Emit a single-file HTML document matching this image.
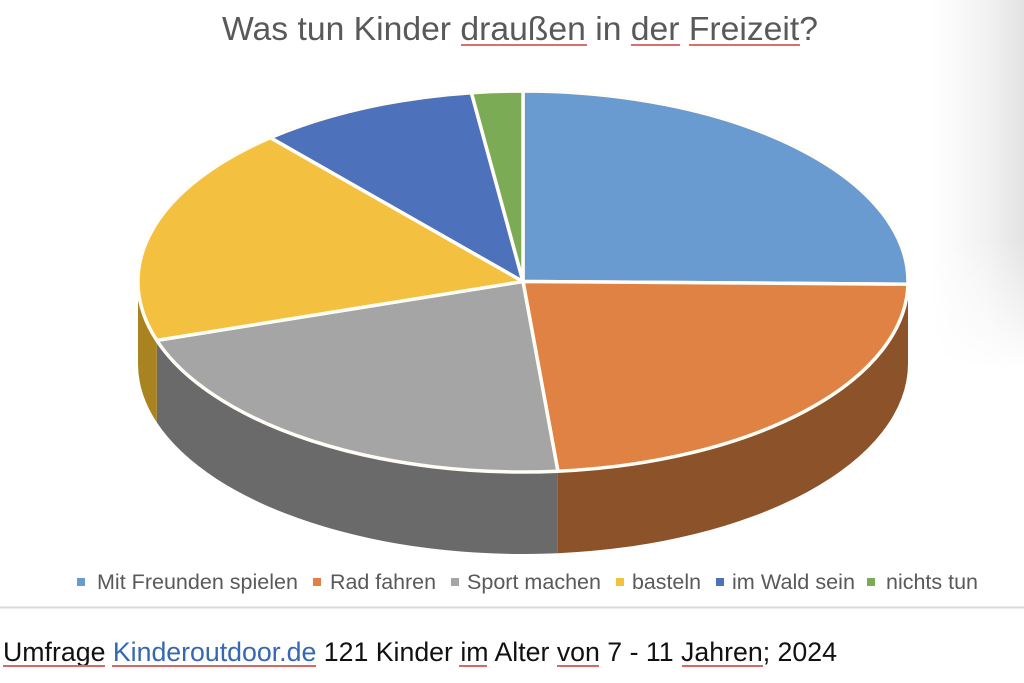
<!DOCTYPE html>
<html>
<head>
<meta charset="utf-8">
<style>
html,body{margin:0;padding:0;background:#fff;}
body{width:1024px;height:683px;overflow:hidden;}
svg{display:block;}
text{font-family:"Liberation Sans",Arial,sans-serif;}
</style>
</head>
<body>
<svg width="1024" height="683" viewBox="0 0 1024 683" xmlns="http://www.w3.org/2000/svg">
  <defs>
    <linearGradient id="hg" x1="0" y1="0" x2="1" y2="0">
      <stop offset="0" stop-color="#000" stop-opacity="0"/>
      <stop offset="0.6" stop-color="#000" stop-opacity="0.05"/>
      <stop offset="1" stop-color="#000" stop-opacity="0.11"/>
    </linearGradient>
    <linearGradient id="vg" x1="0" y1="0" x2="0" y2="1">
      <stop offset="0" stop-color="#fff"/>
      <stop offset="0.65" stop-color="#fff"/>
      <stop offset="1" stop-color="#000"/>
    </linearGradient>
    <mask id="vm">
      <rect x="930" y="0" width="94" height="370" fill="url(#vg)"/>
    </mask>
  </defs>

  <rect x="0" y="0" width="1024" height="683" fill="#fff"/>
  <!-- right page shadow -->
  <rect x="930" y="0" width="94" height="370" fill="url(#hg)" mask="url(#vm)"/>

  <!-- Title -->
  <text x="222" y="40" font-size="33.6" fill="#595959" textLength="596" lengthAdjust="spacingAndGlyphs">Was tun Kinder draußen in der Freizeit?</text>
  <g stroke="#d8706c" stroke-width="2">
    <line x1="461" y1="45" x2="587" y2="45"/>
    <line x1="631" y1="45" x2="680" y2="45"/>
    <line x1="689" y1="45" x2="800" y2="45"/>
  </g>

  <!-- Pie sides -->
  <path d="M908 281.5 A385 190.5 0 0 1 557.9 471.2 L557.9 553.2 A385 190.5 0 0 0 908 363.5 Z" fill="#8c522a"/>
  <path d="M557.9 471.2 A385 190.5 0 0 1 156.8 340.4 L156.8 422.4 A385 190.5 0 0 0 557.9 553.2 Z" fill="#6a6a6a"/>
  <path d="M156.8 340.4 A385 190.5 0 0 1 138 281.5 L138 363.5 A385 190.5 0 0 0 156.8 422.4 Z" fill="#a8831f"/>

  <!-- Pie top -->
  <g stroke="#fffdf6" stroke-width="3.5" stroke-linejoin="round">
    <path d="M523 281.5 L523 91 A385 190.5 0 0 1 907.96 284.2 Z" fill="#6a9bd0"/>
    <path d="M523 281.5 L907.96 284.2 A385 190.5 0 0 1 557.9 471.2 Z" fill="#e08243"/>
    <path d="M523 281.5 L557.9 471.2 A385 190.5 0 0 1 156.8 340.4 Z" fill="#a5a5a5"/>
    <path d="M523 281.5 L156.8 340.4 A385 190.5 0 0 1 270.4 137.7 Z" fill="#f3c13f"/>
    <path d="M523 281.5 L270.4 137.7 A385 190.5 0 0 1 471.4 92.7 Z" fill="#4e71bb"/>
    <path d="M523 281.5 L471.4 92.7 A385 190.5 0 0 1 523 91 Z" fill="#7cab55"/>
  </g>

  <!-- Legend -->
  <g font-size="21.5" fill="#595959">
    <rect x="77" y="578" width="8" height="8" fill="#6a9bd0"/>
    <text x="97" y="589" textLength="201" lengthAdjust="spacingAndGlyphs">Mit Freunden spielen</text>
    <rect x="313" y="578" width="8" height="8" fill="#e08243"/>
    <text x="330" y="589" textLength="106" lengthAdjust="spacingAndGlyphs">Rad fahren</text>
    <rect x="451" y="578" width="8" height="8" fill="#a5a5a5"/>
    <text x="467" y="589" textLength="134" lengthAdjust="spacingAndGlyphs">Sport machen</text>
    <rect x="616" y="578" width="8" height="8" fill="#f3c13f"/>
    <text x="632" y="589" textLength="69" lengthAdjust="spacingAndGlyphs">basteln</text>
    <rect x="716" y="578" width="8" height="8" fill="#4e71bb"/>
    <text x="732" y="589" textLength="123" lengthAdjust="spacingAndGlyphs">im Wald sein</text>
    <rect x="867" y="578" width="8" height="8" fill="#7cab55"/>
    <text x="886" y="589" textLength="92" lengthAdjust="spacingAndGlyphs">nichts tun</text>
  </g>

  <!-- chart frame bottom line -->
  <rect x="0" y="606.5" width="1024" height="2" fill="#d9d9d9"/>

  <!-- Caption -->
  <text x="3" y="661" font-size="26.6" fill="#111" textLength="834" lengthAdjust="spacingAndGlyphs">Umfrage <tspan fill="#3468b4">Kinderoutdoor.de</tspan> 121 Kinder im Alter von 7 - 11 Jahren; 2024</text>
  <g stroke="#d46a66" stroke-width="2">
    <line x1="3" y1="666" x2="105" y2="666"/>
    <line x1="112" y1="666" x2="316" y2="666"/>
    <line x1="459" y1="666" x2="487" y2="666"/>
    <line x1="557" y1="666" x2="599" y2="666"/>
    <line x1="682" y1="666" x2="763" y2="666"/>
  </g>
</svg>
</body>
</html>
